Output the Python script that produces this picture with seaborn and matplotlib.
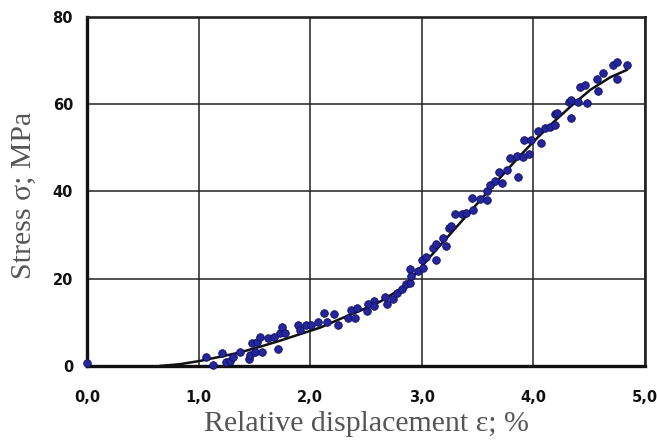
import numpy as np
import pandas as pd
import matplotlib
matplotlib.use("Agg")
import matplotlib.pyplot as plt
import seaborn as sns

# Measured points (strain %, stress MPa)
strain = [0.0, 1.07, 1.13, 1.21, 1.25, 1.28, 1.31, 1.37, 1.45, 1.46, 1.48, 1.51, 1.52, 1.55,
          1.57, 1.62, 1.68, 1.71, 1.73, 1.75, 1.77, 1.89, 1.91, 1.96, 2.01, 2.07, 2.12,
          2.15, 2.21, 2.25, 2.34, 2.37, 2.40, 2.42, 2.51, 2.52, 2.57, 2.57, 2.67, 2.69,
          2.74, 2.78, 2.82, 2.86, 2.89, 2.89, 2.90, 2.97, 3.00, 3.01, 3.04, 3.10, 3.13,
          3.13, 3.19, 3.22, 3.24, 3.26, 3.30, 3.36, 3.40, 3.45, 3.46, 3.52, 3.58, 3.58,
          3.61, 3.66, 3.72, 3.69, 3.76, 3.86, 3.79, 3.85, 3.91, 3.96, 3.92, 3.98, 4.04,
          4.07, 4.10, 4.15, 4.19, 4.19, 4.21, 4.34, 4.32, 4.34, 4.40, 4.48, 4.42, 4.46,
          4.58, 4.57, 4.62, 4.71, 4.75, 4.75, 4.84]
stress = [0.7, 2.1, 0.15, 3.0, 0.8, 1.2, 2.1, 3.3, 1.5, 2.5, 5.2, 3.3, 5.6, 6.7,
          3.3, 6.3, 6.7, 4.0, 7.5, 9.0, 7.5, 9.4, 8.3, 9.5, 9.5, 10.0, 12.2,
          10.1, 11.9, 9.3, 11.1, 12.8, 11.1, 13.2, 12.6, 14.1, 14.9, 13.7, 15.7, 14.1,
          15.3, 16.8, 17.6, 18.7, 19.1, 22.2, 20.6, 21.8, 24.4, 22.5, 25.0, 27.1, 28.0,
          24.4, 29.4, 27.5, 31.7, 32.0, 34.8, 34.8, 35.0, 38.4, 35.8, 38.2, 38.1, 40.0,
          41.5, 42.3, 41.9, 44.5, 44.9, 43.4, 47.6, 48.1, 48.0, 48.6, 51.8, 51.8, 53.9,
          51.2, 54.5, 54.9, 55.2, 57.8, 58.1, 56.8, 60.6, 61.0, 60.6, 60.2, 64.0, 64.4,
          63.1, 65.9, 67.2, 69.0, 69.8, 65.7, 69.0]

# Trend line
trend_x = [0.65, 0.83, 1.01, 1.19, 1.37, 1.55, 1.73, 1.91, 2.09, 2.27, 2.45, 2.63,
           2.80, 2.89, 2.98, 3.07, 3.16, 3.25, 3.34, 3.43, 3.52, 3.70, 3.88, 4.00,
           4.15, 4.33, 4.51, 4.69, 4.84]
trend_y = [0.0, 0.4, 1.15, 2.1, 3.1, 4.4, 5.8, 7.3, 8.8, 10.8, 12.7, 14.8,
           17.5, 19.6, 22.2, 24.9, 27.5, 30.1, 32.7, 35.3, 37.9, 43.1, 48.2, 51.4,
           55.2, 59.4, 63.3, 66.2, 67.9]

x_ticks = [0, 1, 2, 3, 4, 5]
x_labels = ["0,0", "1,0", "2,0", "3,0", "4,0", "5,0"]
y_ticks = [0, 20, 40, 60, 80]

sns.set_style("white")
plt.rcParams['font.family'] = ['DejaVu Sans']

fig = plt.figure(figsize=(6.57, 4.42), dpi=100)
ax = fig.add_axes([0.1324, 0.172, 0.8493, 0.7895])

pts = pd.DataFrame({"strain": strain, "stress": stress})
trend = pd.DataFrame({"x": trend_x, "y": trend_y})

sns.lineplot(data=trend, x="x", y="y", ax=ax, color="#111111", linewidth=1.8,
             sort=True, zorder=3)
sns.scatterplot(data=pts, x="strain", y="stress", ax=ax, color="#25259e",
                edgecolor="#10105a", linewidth=0.6, s=30, marker="o", zorder=4,
                clip_on=False)

ax.set_xlim(0, 5)
ax.set_ylim(0, 80)
ax.set_xticks(x_ticks)
ax.set_xticklabels(x_labels)
ax.set_yticks(y_ticks)
ax.grid(True, color="#222222", linewidth=1.1)
ax.set_axisbelow(True)

for side in ["left", "bottom"]:
    ax.spines[side].set_linewidth(2.4)
    ax.spines[side].set_color("#111111")
for side in ["top", "right"]:
    ax.spines[side].set_linewidth(1.9)
    ax.spines[side].set_color("#222222")

ax.tick_params(axis="both", which="major", direction="out", length=4, width=1,
               color="#222222", labelsize=10.5)
ax.tick_params(axis="x", pad=13)
ax.tick_params(axis="y", pad=6)
for lbl in ax.get_xticklabels() + ax.get_yticklabels():
    lbl.set_fontweight("bold")
    lbl.set_color("#111111")

ax.set_xlabel("Relative displacement ε; %", family=["Liberation Serif", "DejaVu Serif"],
              fontsize=21.5, color="#555555")
ax.set_ylabel("Stress σ; MPa", family=["Liberation Serif", "DejaVu Serif"],
              fontsize=21.5, color="#555555")
ax.xaxis.set_label_coords(0.5, -0.13)
ax.yaxis.set_label_coords(-0.09, 0.49)

fig.savefig("out.png", dpi=100)
